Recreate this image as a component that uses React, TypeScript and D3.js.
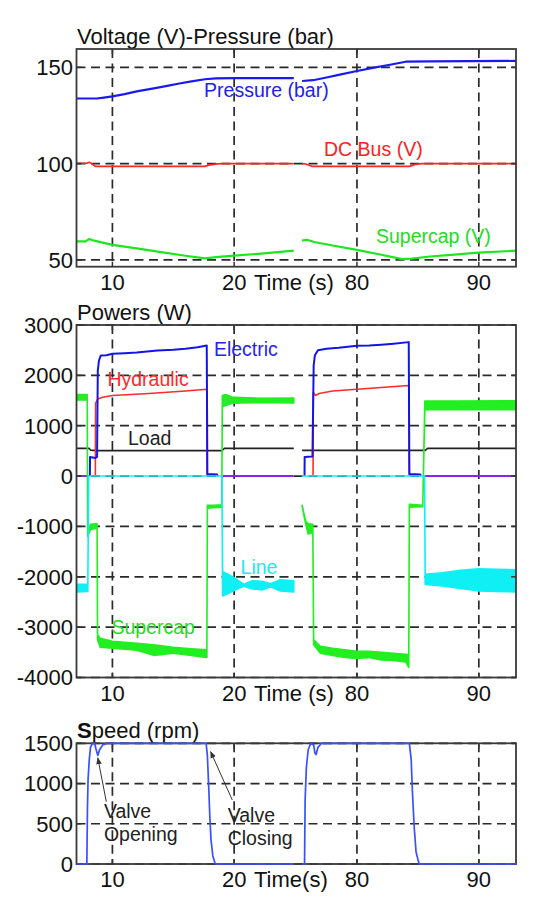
import React, { useEffect, useRef } from 'react';
import * as d3 from 'd3';

type Pt = [number, number];
type Band = [number, number, number]; // time, low, high

// time axis is broken between 25 s and 75 s
const timeTicks = [10, 20, 80, 90];

// ---- top panel: voltage (V) / pressure (bar)
const voltTicks = [50, 100, 150];
const pressureA: Pt[] = [[7.05, 133.8], [8.7, 133.8], [9.3, 134.3], [10, 134.9], [11, 136.1], [12, 137.5], [13.4, 139.1], [14.5, 140.4], [15.5, 141.6], [16.5, 142.7], [17.6, 143.8], [18.5, 144.3], [20, 144.4], [24.9, 144.4]];
const pressureB: Pt[] = [[75.5, 142.9], [76.4, 143.3], [77.5, 144.7], [78.5, 146.1], [80, 148.1], [81.3, 149.7], [82.6, 151.2], [84, 152.9], [86, 153.1], [93.05, 153.3]];
const dcBusA: Pt[] = [[7.05, 100.2], [7.9, 100.2], [8.1, 100.7], [8.3, 100], [8.6, 98.6], [17.6, 98.6], [17.9, 99.2], [18.6, 99.9], [19.1, 100], [24.9, 100]];
const dcBusB: Pt[] = [[75.5, 100], [75.8, 99.8], [76.3, 98.6], [84.3, 98.6], [84.8, 99.6], [85.3, 100], [93.05, 100]];
const supercapVA: Pt[] = [[7.05, 59.6], [7.8, 59.6], [8.1, 60.9], [8.5, 60], [10, 57.8], [12, 56], [14, 54.1], [16, 52.2], [17.6, 50.8], [18.5, 51.5], [20, 52.2], [22, 53.2], [24.9, 54.8]];
const supercapVB: Pt[] = [[75.5, 60], [75.9, 60.5], [76.5, 59.3], [78, 57.5], [80, 55.2], [82, 52.7], [83.7, 50.4], [84.5, 50.7], [86, 51.8], [88, 52.8], [90, 53.8], [93.05, 54.8]];

// ---- middle panel: powers (W)
const powerTicks = [-4000, -3000, -2000, -1000, 0, 1000, 2000, 3000];
const electricA: Pt[] = [[8.15, 0], [8.16, 380], [8.6, 360], [8.74, 380], [8.8, 2100], [8.9, 2300], [9.05, 2395], [9.5, 2400], [10, 2428], [11, 2440], [12, 2455], [13.7, 2494], [15, 2510], [16, 2530], [17, 2560], [17.75, 2593], [17.8, 40], [18.6, 30], [18.65, 0]];
const electricB: Pt[] = [[75.7, 0], [75.71, 380], [76.35, 390], [76.45, 2200], [76.55, 2400], [76.8, 2500], [77.5, 2530], [78.5, 2550], [80, 2590], [81, 2595], [82, 2610], [83, 2630], [84.25, 2660], [84.3, 40], [85.2, 30], [85.25, 0]];
const hydraulicA: Pt[] = [[8.6, 0], [8.62, 1450], [8.8, 1530], [9.2, 1565], [10, 1600], [13, 1640], [16, 1690], [17.75, 1725], [17.78, 0]];
const hydraulicB: Pt[] = [[76.4, 0], [76.42, 1660], [76.6, 1600], [76.9, 1640], [78, 1690], [80, 1725], [82, 1760], [84.25, 1800], [84.3, 0]];
const loadA: Pt[] = [[7.05, 550], [8.1, 550], [8.2, 515], [8.7, 505], [19.0, 505], [19.2, 550], [24.9, 550]];
const loadB: Pt[] = [[75.5, 510], [85.6, 510], [85.8, 550], [93.05, 550]];
const idleA: Pt[] = [[7.05, 0], [8.08, 0]];
const idleB: Pt[] = [[19.03, 0], [24.9, 0]];
const idleC: Pt[] = [[85.6, 0], [93.05, 0]];
const supercapPA: Band[] = [
  [7.05, 1510, 1620], [7.93, 1510, 1620], [7.97, -1200, -1140], [8.2, -1060, -960], [8.6, -1040, -950], [8.74, -1000, -950],
  [8.78, -3250, -3150], [9.0, -3400, -3220], [10, -3420, -3280], [11, -3440, -3300], [12, -3460, -3320], [13.4, -3560, -3350],
  [15, -3520, -3400], [16.5, -3560, -3430], [17.7, -3600, -3450], [17.76, -3600, -3450], [17.8, -640, -580], [18.3, -630, -580],
  [18.98, -620, -570], [19.03, 1380, 1600], [19.3, 1400, 1620], [19.8, 1440, 1570], [20.5, 1450, 1560], [22, 1460, 1545], [24.9, 1450, 1550]
];
const supercapPB: Band[] = [
  [75.5, -600, -580], [75.8, -960, -900], [76.0, -1150, -950], [76.38, -1120, -960], [76.45, -3350, -3250], [77, -3520, -3380],
  [78, -3560, -3420], [79, -3600, -3450], [80, -3620, -3480], [81, -3600, -3480], [82, -3650, -3500], [83, -3660, -3520],
  [84, -3690, -3540], [84.25, -3800, -3560], [84.3, -620, -560], [85.4, -610, -580], [85.57, 1320, 1490], [88, 1320, 1490], [93.05, 1320, 1495]
];
const lineA: Band[] = [
  [7.05, -2300, -2150], [7.98, -2290, -2150], [8.05, 0, 0], [19.0, 0, 0], [19.05, -2380, -1900], [19.5, -2330, -1950],
  [20.2, -2250, -2050], [20.8, -2190, -2150], [21.5, -2240, -2080], [22.3, -2260, -2090], [23, -2200, -2140], [23.8, -2280, -2060], [24.9, -2300, -2080]
];
const lineB: Band[] = [
  [75.5, 0, 0], [85.55, 0, 0], [85.6, -2150, -1950], [87, -2180, -1920], [88.5, -2230, -1870], [90, -2280, -1840], [91.5, -2290, -1850], [93.05, -2300, -1860]
];

// ---- bottom panel: speed (rpm)
const speedTicks = [0, 500, 1000, 1500];
const speedA: Pt[] = [[7.05, 0], [7.9, 0], [7.95, 700], [8.0, 1050], [8.1, 1300], [8.2, 1450], [8.35, 1500], [8.55, 1495], [8.65, 1430], [8.8, 1350], [8.95, 1420], [9.2, 1480], [9.6, 1500], [17.7, 1500], [17.8, 1350], [17.9, 1000], [18.0, 600], [18.1, 300], [18.25, 100], [18.45, 0], [24.9, 0]];
const speedB: Pt[] = [[75.5, 0], [75.7, 0], [75.75, 800], [75.85, 1200], [76.0, 1420], [76.2, 1495], [76.45, 1480], [76.55, 1380], [76.65, 1360], [76.8, 1450], [77.1, 1500], [84.3, 1500], [84.45, 1300], [84.55, 900], [84.7, 450], [84.85, 150], [85.1, 0], [93.05, 0]];

const FONT = '"Liberation Sans", Arial, Helvetica, sans-serif';

const App = () => {
  const ref = useRef<SVGSVGElement>(null);

  useEffect(() => {
    const svg = d3.select(ref.current);
    svg.selectAll('*').remove();

    const x = d3.scaleLinear().domain([7.05, 25, 75, 93.05]).range([76.5, 295, 296, 516]);
    const left = 76.5, right = 516;

    const defs = svg.append('defs');
    defs.append('marker')
      .attr('id', 'arrow')
      .attr('viewBox', '0 -5 10 10')
      .attr('refX', 9)
      .attr('refY', 0)
      .attr('markerWidth', 7)
      .attr('markerHeight', 7)
      .attr('orient', 'auto')
      .append('path')
      .attr('d', 'M0,-4L10,0L0,4Z')
      .attr('fill', '#333');

    const panel = (id: string, top: number, bottom: number, domain: number[], ticks: number[], title: string, timeLabel: string) => {
      const y = d3.scaleLinear().domain(domain).range([bottom, top]);
      const g = svg.append('g');
      defs.append('clipPath').attr('id', id).append('rect')
        .attr('x', left).attr('y', top).attr('width', right - left).attr('height', bottom - top);

      // dashed grid
      g.selectAll('.hg').data(ticks).enter().append('line')
        .attr('x1', left).attr('x2', right).attr('y1', d => y(d)).attr('y2', d => y(d))
        .attr('stroke', '#2a2a2a').attr('stroke-width', 1.7).attr('stroke-dasharray', '9,5.5');
      g.selectAll('.vg').data(timeTicks).enter().append('line')
        .attr('x1', d => x(d)).attr('x2', d => x(d)).attr('y1', top).attr('y2', bottom)
        .attr('stroke', '#2a2a2a').attr('stroke-width', 1.7).attr('stroke-dasharray', '9,5.5');

      const plot = g.append('g').attr('clip-path', `url(#${id})`);

      // y tick labels
      g.selectAll('.yl').data(ticks).enter().append('text')
        .attr('x', 73).attr('y', d => y(d)).attr('dy', '0.36em')
        .attr('text-anchor', 'end').attr('font-size', 22).attr('font-family', FONT).attr('fill', '#111')
        .text(d => String(d));
      // x tick labels
      g.selectAll('.xl').data(timeTicks).enter().append('text')
        .attr('x', d => x(d)).attr('y', bottom + 23)
        .attr('text-anchor', 'middle').attr('font-size', 22).attr('font-family', FONT).attr('fill', '#111')
        .text(d => String(d));
      g.append('text').attr('x', 254).attr('y', bottom + 23)
        .attr('font-size', 22).attr('font-family', FONT).attr('fill', '#111').text(timeLabel);

      const t = g.append('text').attr('x', 77).attr('y', top - 5)
        .attr('font-size', 22).attr('font-family', FONT).attr('fill', '#111');
      if (title.startsWith('Speed')) {
        t.append('tspan').attr('font-weight', 'bold').text('S');
        t.append('tspan').text(title.slice(1));
      } else {
        t.text(title);
      }

      const frame = () => {
        g.append('rect').attr('x', left).attr('y', top).attr('width', right - left).attr('height', bottom - top)
          .attr('fill', 'none').attr('stroke', '#3a3a3a').attr('stroke-width', 1.8);
        ticks.forEach(v => {
          g.append('line').attr('x1', left).attr('x2', left + 5).attr('y1', y(v)).attr('y2', y(v)).attr('stroke', '#333').attr('stroke-width', 1.5);
          g.append('line').attr('x1', right - 5).attr('x2', right).attr('y1', y(v)).attr('y2', y(v)).attr('stroke', '#333').attr('stroke-width', 1.5);
        });
        timeTicks.forEach(v => {
          g.append('line').attr('x1', x(v)).attr('x2', x(v)).attr('y1', top).attr('y2', top + 5).attr('stroke', '#333').attr('stroke-width', 1.5);
          g.append('line').attr('x1', x(v)).attr('x2', x(v)).attr('y1', bottom - 5).attr('y2', bottom).attr('stroke', '#333').attr('stroke-width', 1.5);
        });
      };

      const line = (data: Pt[], color: string, width: number, clip = true) => {
        (clip ? plot : g).append('path').datum(data)
          .attr('d', d3.line<Pt>().x(d => x(d[0])).y(d => y(d[1])))
          .attr('fill', 'none').attr('stroke', color).attr('stroke-width', width).attr('stroke-linejoin', 'round');
      };
      const band = (data: Band[], color: string) => {
        plot.append('path').datum(data)
          .attr('d', d3.area<Band>().x(d => x(d[0])).y0(d => y(d[1])).y1(d => y(d[2])))
          .attr('fill', color).attr('stroke', color).attr('stroke-width', 1.6).attr('stroke-linejoin', 'round');
      };
      const label = (tx: number, v: number, text: string, color: string, size = 19.5) => {
        g.append('text').attr('x', x(tx)).attr('y', y(v))
          .attr('font-size', size).attr('font-family', FONT).attr('fill', color).text(text);
      };
      return { y, line, band, label, frame, g };
    };

    // top panel
    const p1 = panel('c1', 49, 266.7, [46.5, 159.5], voltTicks, 'Voltage (V)-Pressure (bar)', 'Time (s)');
    [supercapVA, supercapVB].forEach(d => p1.line(d, '#1ee61e', 2.2));
    [dcBusA, dcBusB].forEach(d => p1.line(d, '#ff2626', 1.7));
    [pressureA, pressureB].forEach(d => p1.line(d, '#1a1aee', 2.2));
    p1.label(17.53, 134.6, 'Pressure (bar)', '#2020f0');
    p1.label(77.3, 103.9, 'DC Bus (V)', '#ff2020');
    p1.label(81.56, 58.8, 'Supercap (V)', '#22dd22');
    p1.frame();

    // middle panel
    const p2 = panel('c2', 325, 677.5, [-4000, 3000], powerTicks, 'Powers (W)', 'Time (s)');
    [loadA, loadB].forEach(d => p2.line(d, '#222', 1.6));
    [idleA, idleB, idleC].forEach(d => p2.line(d, '#8c22f0', 2));
    [hydraulicA, hydraulicB].forEach(d => p2.line(d, '#ff2a2a', 1.6));
    [electricA, electricB].forEach(d => p2.line(d, '#1414e6', 2));
    [supercapPA, supercapPB].forEach(d => p2.band(d, '#22ee22'));
    [lineA, lineB].forEach(d => p2.band(d, '#10f0f4'));
    p2.label(18.34, 2377, 'Electric', '#2424f0');
    p2.label(9.59, 1780, 'Hydraulic', '#ff2a2a');
    p2.label(11.28, 619, 'Load', '#222');
    p2.label(20.53, -1953, 'Line', '#20eaf0');
    p2.label(9.92, -3127, 'Supercap', '#22dd22');
    p2.frame();

    // bottom panel
    const p3 = panel('c3', 743.3, 864, [0, 1500], speedTicks, 'Speed (rpm)', 'Time(s)');
    p3.label(9.3, 572, 'Valve', '#222');
    p3.label(9.3, 286, 'Opening', '#222');
    p3.label(19.47, 522, 'Valve', '#222');
    p3.label(19.47, 236, 'Closing', '#222');
    const arrows: [number, number, number, number][] = [[9.5, 774, 8.8, 1318], [19.85, 795, 18.07, 1396]];
    arrows.forEach(([t0, v0, t1, v1]) => {
      p3.g.append('line')
        .attr('x1', x(t0)).attr('y1', p3.y(v0)).attr('x2', x(t1)).attr('y2', p3.y(v1))
        .attr('stroke', '#333').attr('stroke-width', 1).attr('marker-end', 'url(#arrow)');
    });
    p3.frame();
    // speed trace sits on top of the frame, as in the original
    [speedA, speedB].forEach(d => p3.line(d, '#3a50ff', 1.7, false));
  }, []);

  return (
    <svg ref={ref} width={535} height={897} style={{ position: 'absolute', left: 0, top: 0, background: '#fff' }} />
  );
};

export default App;
